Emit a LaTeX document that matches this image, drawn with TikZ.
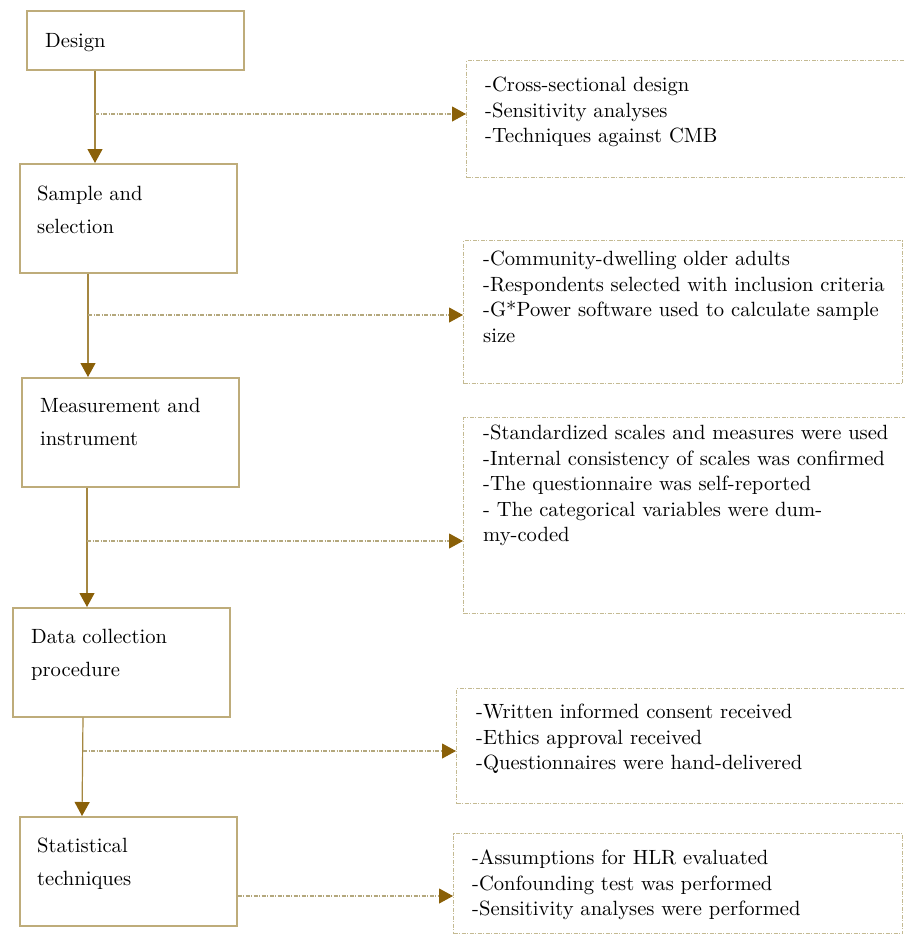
\documentclass[tikz,border=0pt]{standalone}
\usepackage{fontspec}
\setmainfont{lmroman10-regular}[Extension=.otf]
\usetikzlibrary{arrows.meta}

\definecolor{stageline}{RGB}{190,172,122}
\definecolor{flowline}{RGB}{165,135,65}
\definecolor{tipfill}{RGB}{138,96,8}
\definecolor{noteline}{RGB}{196,186,146}
\definecolor{asideline}{RGB}{180,168,125}

\tikzset{
    stage/.style={draw=stageline, line width=1.5pt, minimum width=217pt, minimum height=109pt, anchor=north west, inner sep=0pt},
    note/.style={draw=noteline, line width=1pt, dash pattern=on 4pt off 1.5pt on 1pt off 1.5pt, anchor=north west, inner sep=0pt},
    stagetext/.style={anchor=north west, inner sep=0pt, align=left, font=\fontsize{20.6}{33}\selectfont},
    notetext/.style={anchor=north west, inner sep=0pt, align=left, font=\fontsize{20.6}{25.5}\selectfont},
    flow/.style={draw=flowline, line width=1.2pt, -{Triangle[length=14pt, width=15pt, color=tipfill]}},
    aside/.style={draw=asideline, line width=1.1pt, dash pattern=on 4pt off 1.5pt on 1pt off 1.5pt,
        -{Triangle[length=14pt, width=15pt, color=tipfill]}}
}

\begin{document}
\begin{tikzpicture}[x=1pt, y=-1pt]
\useasboundingbox (0,0) rectangle (905,946);

% left column
\node[stage, minimum width=217pt, minimum height=59pt] (design) at (26,10) {};
\node[stage] (sample) at (19,163) {};
\node[stage] (measure) at (21,377) {};
\node[stage] (collect) at (12,607) {};
\node[stage] (stats) at (19,816) {};

\node[stagetext] (designT) at (45,33) {Design};
\node[stagetext] (sampleT) at (37,186) {Sample and\\selection};
\node[stagetext] (measureT) at (40,398) {Measurement and\\instrument};
\node[stagetext] (collectT) at (31,629) {Data collection\\procedure};
\node[stagetext] (statsT) at (37,838) {Statistical\\techniques};

% right column
\node[note, minimum width=440pt, minimum height=117pt] (noteA) at (466,60) {};
\node[note, minimum width=439pt, minimum height=143pt] (noteB) at (463,240) {};
\node[note, minimum width=443pt, minimum height=196pt] (noteC) at (463,417) {};
\node[note, minimum width=450pt, minimum height=115pt] (noteD) at (456,688) {};
\node[note, minimum width=449pt, minimum height=100pt] (noteE) at (453,833) {};

\node[notetext] (noteAT) at (485,77) {-Cross-sectional design\\-Sensitivity analyses\\-Techniques against CMB};
\node[notetext] (noteBT) at (483,251) {-Community-dwelling older adults\\-Respondents selected with inclusion criteria\\-G*Power software used to calculate sample\\size};
\node[notetext] (noteCT) at (483,425) {-Standardized scales and measures were used\\-Internal consistency of scales was confirmed\\-The questionnaire was self-reported\\- The categorical variables were dum-\\my-coded};
\node[notetext] (noteDT) at (476,704) {-Written informed consent received\\-Ethics approval received\\-Questionnaires were hand-delivered};
\node[notetext] (noteET) at (472,850) {-Assumptions for HLR evaluated\\-Confounding test was performed\\-Sensitivity analyses were performed};

% main flow
\draw[flow] ([xshift=69pt]design.south west) -- ([xshift=76pt]sample.north west);
\draw[flow] ([xshift=69pt]sample.south west) -- ([xshift=67pt]measure.north west);
\draw[flow] ([xshift=66pt]measure.south west) -- ([xshift=75pt]collect.north west);
\draw[flow] ([xshift=71pt]collect.south west) -- ([xshift=63pt]stats.north west);

% side links
\coordinate (sideA) at (95,114);
\coordinate (sideB) at (88,315);
\coordinate (sideC) at (87,541);
\coordinate (sideD) at (83,751);
\coordinate (sideE) at (stats.east |- 0,896);
\draw[aside] (sideA) -- (sideA -| noteA.west);
\draw[aside] (sideB) -- (sideB -| noteB.west);
\draw[aside] (sideC) -- (sideC -| noteC.west);
\draw[aside] (sideD) -- (sideD -| noteD.west);
\draw[aside] (sideE) -- (sideE -| noteE.west);
\end{tikzpicture}
\end{document}
